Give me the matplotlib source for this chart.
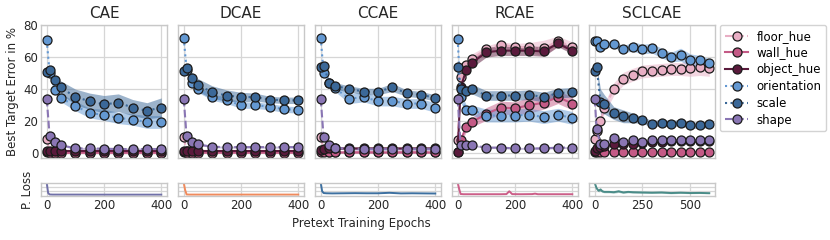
import numpy as np
import matplotlib
matplotlib.use('Agg')
import matplotlib.pyplot as plt

plt.rcParams['font.family'] = ['DejaVu Sans']

# ---- data ----
models = ['CAE', 'DCAE', 'CCAE', 'RCAE', 'SCLCAE']
factors = ['floor_hue', 'wall_hue', 'object_hue', 'orientation', 'scale', 'shape']

ep = [0, 10, 30, 50, 100, 150, 200, 250, 300, 350, 400]
ep_scl = [0, 10, 30, 50, 100, 150, 200, 250, 300, 350, 400, 450, 500, 550, 600]

# CAE
cae_floor = [9, 1, 0.6, 0.5, 0.4, 0.4, 0.4, 0.4, 0.4, 0.4, 0.4]
cae_wall = [0.8, 0.3, 0.3, 0.3, 0.3, 0.3, 0.3, 0.3, 0.3, 0.3, 0.3]
cae_object = [1.5, 1.5, 1.5, 1.5, 1.5, 1.5, 1.5, 1.5, 1.5, 1.5, 1.5]
cae_orient = [70.5, 50, 39.5, 34.5, 29.5, 25, 24, 22, 21, 19.5, 19.5]
cae_scale = [50.5, 52, 45.5, 41, 35, 32.5, 30.5, 31.5, 28.5, 26.5, 28.5]
cae_shape = [34, 11, 7, 5, 3, 3, 2.8, 2.6, 2.6, 2.6, 2.6]
cae_sd_orient = [1, 2, 2, 2.5, 3, 3, 3.5, 3.5, 3.5, 4, 4]
cae_sd_scale = [1, 1, 2, 4, 5, 5, 5.5, 5.5, 5, 5, 6]

# DCAE
dcae_floor = [10, 1.5, 1, 1, 0.8, 0.8, 0.8, 0.8, 0.8, 0.8, 0.8]
dcae_wall = [0.8, 0.4, 0.4, 0.4, 0.4, 0.4, 0.4, 0.4, 0.4, 0.4, 0.4]
dcae_object = [1.5, 1.5, 1.5, 1.5, 1.5, 1.5, 1.5, 1.5, 1.5, 1.5, 1.5]
dcae_orient = [72, 52, 44, 40, 35, 33, 30, 30, 29, 27.5, 27]
dcae_scale = [51, 53, 47, 42.5, 38, 36, 35, 35, 33.5, 33, 33]
dcae_shape = [34, 10.5, 7, 5.5, 4, 3.8, 3.8, 3.8, 3.8, 3.8, 3.8]
dcae_sd_orient = [1, 1, 2, 2, 2, 2, 2, 2, 2, 2, 2]
dcae_sd_scale = [1, 1, 3, 4, 4, 3.5, 3, 2.5, 2, 2, 2]

# CCAE
ccae_floor = [10, 2, 1, 1, 0.8, 0.8, 0.8, 0.8, 0.8, 0.8, 0.8]
ccae_wall = [0.8, 0.5, 0.5, 0.5, 0.5, 0.5, 0.5, 0.5, 0.5, 0.5, 0.5]
ccae_object = [2, 2.5, 3, 3, 3, 3, 3, 3, 3, 3, 3]
ccae_orient = [72, 50, 44, 40.5, 34, 35, 32.5, 32.5, 31, 31, 28.5]
ccae_scale = [54, 54.5, 44, 42, 40, 38.5, 38.5, 41, 37.5, 36.5, 34.5]
ccae_shape = [34, 10, 5, 3.5, 2.5, 2.5, 2.5, 2.5, 2.5, 2.5, 2.5]
ccae_sd_orient = [1, 1, 2, 2, 3, 3, 3, 3, 3, 3, 3]
ccae_sd_scale = [1, 1, 2, 2, 2, 2, 2, 2.5, 2, 2, 2]

# RCAE
rcae_floor = [8.5, 47.5, 55, 59, 65, 67.5, 66.5, 66, 65.5, 70, 66.5]
rcae_wall = [1, 8, 16.5, 19.5, 24.5, 28.5, 28, 30, 31.5, 35, 31]
rcae_object = [1, 41, 52, 56.5, 63, 64, 64, 64, 63.5, 68.5, 64]
rcae_orient = [71, 35, 27, 27, 23.5, 23.5, 23.5, 24, 22.5, 24, 22]
rcae_scale = [54, 40, 39, 40, 36, 36, 36, 36.5, 35, 37.5, 38]
rcae_shape = [34, 5, 5, 5, 3.5, 3.5, 3, 3, 3, 3.5, 3.5]
rcae_sd_floor = [1, 3, 3, 3, 2, 2, 2, 3, 5, 3, 3]
rcae_sd_wall = [0.5, 2, 3, 3, 4, 4, 4, 5, 4, 4, 4]
rcae_sd_object = [0.5, 3, 3, 3, 3, 3, 3, 3, 3, 2, 2]
rcae_sd_orient = [1, 3, 3, 3, 4, 4, 4, 4, 4, 4, 4]
rcae_sd_scale = [1, 3, 3, 3, 3, 3, 3, 3, 3, 3, 3]

# SCLCAE
scl_floor = [9, 14, 20, 28, 40, 46.5, 49, 51, 51.5, 52, 52.5, 52.5, 53, 53.5, 53]
scl_wall = [1, 1, 1, 1, 1, 1, 1, 1, 1, 1, 1, 1, 1, 1, 1]
scl_object = [1.5, 3, 4, 4.5, 5.5, 5.5, 6, 6.5, 7, 7, 7.5, 7.5, 7.5, 7.5, 7.5]
scl_orient = [70, 70, 66.5, 68, 68, 65, 66.5, 65, 65.5, 62.5, 60, 61.5, 58, 58, 56]
scl_scale = [51, 54, 32, 30.5, 25, 23, 22, 20.5, 18.5, 19, 18.5, 19, 17.5, 17.5, 18]
scl_shape = [34, 15, 5.5, 6, 9.5, 7, 8.5, 7, 8, 8, 8, 8, 8, 8, 8]
scl_sd_floor = [1, 2, 3, 3, 4, 4, 4, 4, 4, 4, 4, 4, 5, 5, 5]
scl_sd_orient = [1, 1, 2, 2, 2, 2, 3, 3, 3, 3, 3, 4, 4, 3, 3]
scl_sd_scale = [1, 1, 8, 6, 4, 4, 3, 2, 2, 2, 2, 2, 2, 2, 2]

# pretext losses (normalised)
loss_ep = [0, 5, 10, 20, 40, 80, 120, 160, 200, 240, 280, 320, 360, 400]
cae_loss = [1.0, 0.15, 0.03, 0.02, 0.02, 0.02, 0.02, 0.015, 0.015, 0.015, 0.015, 0.015, 0.015, 0.015]
dcae_loss = [1.0, 0.4, 0.03, 0.02, 0.02, 0.02, 0.02, 0.02, 0.02, 0.02, 0.02, 0.02, 0.02, 0.02]
ccae_loss = [1.0, 0.3, 0.15, 0.13, 0.12, 0.13, 0.14, 0.13, 0.13, 0.17, 0.12, 0.13, 0.12, 0.11]
rcae_loss_ep = [0, 5, 10, 20, 60, 100, 150, 170, 180, 190, 220, 260, 270, 280, 320, 360, 400]
rcae_loss = [1.0, 0.5, 0.07, 0.05, 0.05, 0.05, 0.05, 0.06, 0.3, 0.06, 0.05, 0.06, 0.1, 0.05, 0.05, 0.05, 0.05]
scl_loss_ep = [0, 10, 20, 30, 40, 50, 75, 100, 125, 150, 175, 200, 250, 300, 350, 400, 450, 500, 550, 600]
scl_loss = [1.0, 0.55, 0.35, 0.45, 0.3, 0.25, 0.25, 0.22, 0.3, 0.2, 0.25, 0.22, 0.2, 0.18, 0.2, 0.15, 0.18, 0.15, 0.16, 0.14]
scl_loss_sd = [0.0, 0.1, 0.1, 0.15, 0.1, 0.08, 0.08, 0.08, 0.1, 0.08, 0.08, 0.08, 0.07, 0.06, 0.07, 0.06, 0.06, 0.05, 0.05, 0.05]

# ---- styles ----
colors = {'floor_hue': '#e8aec4', 'wall_hue': '#c45a86', 'object_hue': '#5a1a3c',
          'orientation': '#6398d2', 'scale': '#3b6898', 'shape': '#8a76b4'}
styles = {'floor_hue': '--', 'wall_hue': '-', 'object_hue': '-',
          'orientation': ':', 'scale': ':', 'shape': '--'}
loss_colors = ['#7070a8', '#f08a5c', '#3d70a0', '#cc5e88', '#4a8c88']

panels = [
    (ep, [cae_floor, cae_wall, cae_object, cae_orient, cae_scale, cae_shape],
     {'orientation': cae_sd_orient, 'scale': cae_sd_scale}),
    (ep, [dcae_floor, dcae_wall, dcae_object, dcae_orient, dcae_scale, dcae_shape],
     {'orientation': dcae_sd_orient, 'scale': dcae_sd_scale}),
    (ep, [ccae_floor, ccae_wall, ccae_object, ccae_orient, ccae_scale, ccae_shape],
     {'orientation': ccae_sd_orient, 'scale': ccae_sd_scale}),
    (ep, [rcae_floor, rcae_wall, rcae_object, rcae_orient, rcae_scale, rcae_shape],
     {'floor_hue': rcae_sd_floor, 'wall_hue': rcae_sd_wall, 'object_hue': rcae_sd_object,
      'orientation': rcae_sd_orient, 'scale': rcae_sd_scale}),
    (ep_scl, [scl_floor, scl_wall, scl_object, scl_orient, scl_scale, scl_shape],
     {'floor_hue': scl_sd_floor, 'orientation': scl_sd_orient, 'scale': scl_sd_scale}),
]
losses = [(loss_ep, cae_loss), (loss_ep, dcae_loss), (loss_ep, ccae_loss),
          (rcae_loss_ep, rcae_loss), (scl_loss_ep, scl_loss)]

W, H = 830, 240
fig = plt.figure(figsize=(W / 100, H / 100), dpi=100)

lefts = [41, 178, 315, 452, 589]
width = 126
grid_c = '#d6d6d6'
spine_c = '#c8c8c8'
txt_c = '#262626'
fs = 8.5


def style_ax(ax):
    for s in ax.spines.values():
        s.set_color(spine_c)
        s.set_linewidth(1.0)
    ax.grid(True, color=grid_c, linewidth=0.9)
    ax.set_axisbelow(True)
    ax.tick_params(length=0, labelsize=fs, pad=2, colors=txt_c)


for i, name in enumerate(models):
    ax = fig.add_axes([lefts[i] / W, 1 - 158 / H, width / W, 133 / H])
    style_ax(ax)
    x, series, sds = panels[i]
    x = np.array(x)
    for f, y in zip(factors, series):
        y = np.array(y, dtype=float)
        sd = np.array(sds.get(f, [0.6] * len(y)), dtype=float)
        ax.fill_between(x, y - sd, y + sd, color=colors[f], alpha=0.5, lw=0)
        ax.plot(x, y, linestyle=styles[f], color=colors[f], lw=1.5, marker='o',
                ms=6.5, mfc=colors[f], mec='#1a1a1a', mew=0.9, label=f)
    ax.set_ylim(-3, 80)
    ax.set_yticks([0, 20, 40, 60, 80])
    if i == 4:
        ax.set_xticks([0, 250, 500])
    else:
        ax.set_xticks([0, 200, 400])
    ax.margins(x=0.05)
    ax.set_xticklabels([])
    if i > 0:
        ax.set_yticklabels([])
    else:
        ax.set_ylabel('Best Target Error in %', fontsize=fs, labelpad=3, color=txt_c)
    ax.set_title(name, fontsize=11, pad=5, color=txt_c)
    if i == 4:
        ax.legend(loc='upper left', bbox_to_anchor=(1.04, 1.0), borderaxespad=0,
                  fontsize=8.5, frameon=True, edgecolor=spine_c, handlelength=2.0,
                  labelspacing=0.32, handletextpad=0.7, borderpad=0.4, fancybox=True)

    lx = fig.add_axes([lefts[i] / W, 1 - 196 / H, width / W, 13 / H])
    style_ax(lx)
    le, lv = losses[i]
    le = np.array(le)
    lv = np.array(lv)
    if i == 4:
        sd = np.array(scl_loss_sd)
        lx.fill_between(le, lv - sd, lv + sd, color=loss_colors[i], alpha=0.4, lw=0)
    lx.plot(le, lv, color=loss_colors[i], lw=1.4)
    lx.set_ylim(-0.1, 1.0)
    lx.set_yticks([0.35, 0.7])
    lx.set_yticklabels([])
    if i == 4:
        lx.set_xticks([0, 250, 500])
    else:
        lx.set_xticks([0, 200, 400])
    lx.margins(x=0.05)
    if i == 0:
        lx.set_ylabel('P. Loss', fontsize=fs, labelpad=3, color=txt_c)

fig.text(361 / W, 1 - 224 / H, 'Pretext Training Epochs', ha='center', va='center',
         fontsize=fs, color=txt_c)

fig.savefig('out.png', dpi=100)
